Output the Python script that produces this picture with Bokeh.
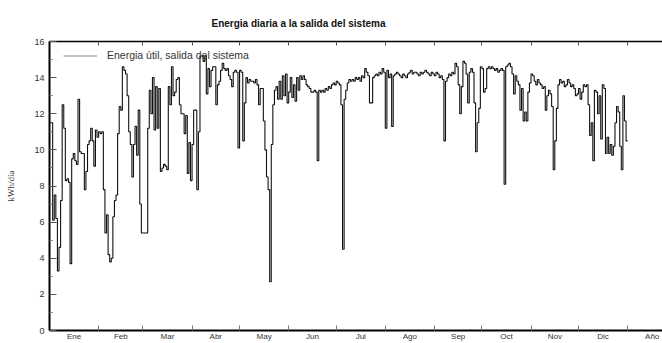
from bokeh.plotting import figure
from bokeh.models import FixedTicker, LinearAxis, Range1d, Legend, LegendItem, Title
from bokeh.embed import file_html
from bokeh.resources import INLINE

# Month labels along the bottom axis (the last slot is the yearly summary)
meses = ["Ene", "Feb", "Mar", "Abr", "May", "Jun", "Jul", "Ago", "Sep", "Oct", "Nov", "Dic", "Año"]
dias_mes = [31, 28, 31, 30, 31, 30, 31, 31, 30, 31, 30, 31, 31]

# Daily useful energy at the system output, kWh/día
ene = [11.5, 11.5, 6.1, 7.5, 6.2, 3.3, 4.6, 7.2, 12.5, 11.2, 8.3, 8.4, 8.2, 3.7, 9.5, 9.8,
       9.4, 9.2, 12.8, 9.9, 9.8, 9.8, 7.8, 8.8, 10.3, 10.5, 11.2, 10.5, 9.1, 11.1, 10.7]
feb = [11.0, 10.9, 11.0, 7.8, 5.4, 6.4, 4.2, 3.8, 4.0, 6.3, 7.2, 7.5, 10.9, 12.4, 12.2,
       14.6, 14.4, 14.2, 13.0, 11.0, 10.3, 8.5, 10.3, 11.3, 9.7, 12.2, 7.0, 5.4]
mar = [5.4, 5.4, 5.4, 11.2, 13.3, 12.0, 14.0, 11.1, 13.5, 11.2, 13.4, 8.8, 9.0, 9.2, 9.1,
       8.9, 13.5, 12.5, 14.6, 13.0, 13.2, 13.9, 14.0, 12.5, 12.0, 12.0, 10.9, 11.9, 8.7,
       10.4, 8.3]
abr = [10.3, 12.2, 12.2, 7.8, 11.0, 15.2, 15.2, 14.9, 15.2, 13.1, 14.5, 13.5, 14.4, 14.6,
       14.6, 12.5, 13.6, 13.8, 14.4, 14.8, 14.5, 14.4, 14.5, 14.1, 13.9, 13.5, 14.3, 14.4,
       14.3, 10.1]
may = [14.4, 14.3, 10.5, 12.6, 14.0, 13.7, 13.9, 13.8, 13.8, 13.7, 13.9, 13.6, 12.5, 13.4,
       13.4, 11.6, 10.0, 8.5, 7.8, 2.7, 10.3, 12.5, 13.3, 13.5, 12.8, 13.8, 12.8, 14.1,
       13.0, 14.2, 12.6]
jun = [13.2, 14.0, 12.9, 13.6, 12.7, 14.0, 13.3, 14.1, 13.9, 14.1, 13.9, 13.6, 13.5, 13.4,
       13.2, 13.2, 13.3, 13.2, 9.4, 13.3, 13.2, 13.3, 13.2, 13.4, 13.3, 13.5, 13.4, 13.6,
       13.7, 13.6]
jul = [13.8, 13.7, 13.6, 12.5, 4.5, 12.8, 13.3, 13.7, 13.9, 13.8, 13.9, 13.8, 14.0, 13.9,
       14.0, 13.8, 14.1, 14.0, 14.5, 14.3, 14.1, 12.6, 12.6, 14.0, 14.1, 14.2, 14.1, 14.3,
       14.2, 14.5, 14.3]
ago = [11.2, 14.4, 14.0, 14.2, 11.3, 14.1, 14.2, 14.3, 14.2, 14.1, 14.0, 14.2, 14.1, 14.0,
       14.2, 14.3, 14.4, 14.2, 14.3, 14.3, 14.2, 14.1, 14.3, 14.2, 14.3, 14.4, 14.3, 14.2,
       14.1, 14.3, 14.2]
sep = [14.1, 14.3, 14.2, 14.0, 14.1, 13.9, 10.5, 13.8, 14.0, 14.2, 14.1, 14.3, 14.2, 14.8,
       14.6, 13.6, 12.0, 13.5, 14.9, 14.8, 14.2, 12.6, 14.3, 14.5, 14.3, 12.6, 9.9, 11.5,
       12.3, 14.6]
oct_ = [14.5, 13.2, 13.4, 14.5, 14.6, 14.5, 14.6, 14.5, 14.4, 14.5, 14.3, 14.4, 14.5, 14.4,
        8.1, 14.6, 14.7, 14.8, 14.6, 14.2, 13.1, 14.1, 13.8, 13.6, 12.2, 13.4, 11.6, 12.1,
        11.6, 13.2, 13.7]
nov = [14.2, 14.1, 13.8, 13.6, 13.9, 13.7, 13.6, 13.4, 13.5, 12.2, 13.0, 13.3, 13.1, 12.4,
       8.9, 10.5, 12.3, 13.6, 13.9, 13.7, 13.8, 13.5, 13.6, 13.9, 13.7, 13.5, 13.6, 13.4,
       13.0, 13.1]
dic = [13.4, 12.8, 13.2, 13.6, 13.5, 13.6, 12.5, 10.8, 11.5, 9.4, 13.3, 13.2, 12.0, 13.0,
       10.6, 13.6, 13.4, 9.8, 10.7, 9.8, 10.3, 9.7, 10.2, 11.5, 12.4, 12.1, 10.2, 8.9,
       13.0, 11.6, 10.5]

energia = ene + feb + mar + abr + may + jun + jul + ago + sep + oct_ + nov + dic

# Month boundaries and mid-month label positions, in days
limites = [0]
for n in dias_mes:
    limites.append(limites[-1] + n)
centros = [(a + b) / 2 for a, b in zip(limites[:-1], limites[1:])]

dias = list(range(len(energia) + 1))
valores = energia + [energia[-1]]

FONT = "Liberation Sans"

p = figure(width=662, height=343, output_backend="svg", toolbar_location=None,
           x_range=Range1d(0, 387), y_range=Range1d(0, 16),
           x_axis_type=None, y_axis_type=None,
           min_border_left=49, min_border_right=0, min_border_top=41, min_border_bottom=8)
p.outline_line_color = None
p.xgrid.visible = False
p.ygrid.visible = False
p.background_fill_color = "white"
p.border_fill_color = "white"

p.title = Title(text="Energia diaria a la salida del sistema", align="left", offset=162,
                vertical_align="top",
                text_font=FONT, text_font_size="10px", text_font_style="bold",
                text_color="#111111", standoff=22)

# Left axis: kWh/día with inward ticks
yax = LinearAxis(ticker=FixedTicker(ticks=list(range(0, 17, 2)), minor_ticks=list(range(1, 16, 2))),
                 axis_label="kWh/día", axis_label_text_font="Liberation Serif",
                 axis_label_text_font_size="9px", axis_label_text_font_style="normal",
                 axis_label_text_color="#333333", axis_label_standoff=15,
                 major_tick_in=7, major_tick_out=0, minor_tick_in=3, minor_tick_out=0,
                 major_tick_line_color="#555555", minor_tick_line_color="#777777",
                 axis_line_width=2, axis_line_color="black",
                 major_label_text_font=FONT, major_label_text_font_size="9px",
                 major_label_text_color="#333333", major_label_standoff=5)
p.add_layout(yax, "left")

# Bottom axis: month names centred in each month, boundary ticks pointing inward
xax = LinearAxis(ticker=FixedTicker(ticks=centros, minor_ticks=limites),
                 major_label_overrides={c: m for c, m in zip(centros, meses)},
                 major_tick_in=0, major_tick_out=0, minor_tick_in=5, minor_tick_out=0,
                 minor_tick_line_color="#777777",
                 axis_line_width=2, axis_line_color="black",
                 major_label_text_font=FONT, major_label_text_font_size="8px",
                 major_label_text_color="#333333", major_label_standoff=1)
p.add_layout(xax, "below")

# Top border carrying the same month boundary ticks (minor ticks only, no labels)
tax = LinearAxis(ticker=FixedTicker(ticks=[], minor_ticks=limites),
                 major_tick_in=0, major_tick_out=0,
                 minor_tick_in=4, minor_tick_out=0, minor_tick_line_color="#555555",
                 axis_line_width=1.5, axis_line_color="black",
                 major_label_standoff=0)
p.add_layout(tax, "above")

linea = p.step(x=dias, y=valores, mode="after", line_color="#111111", line_width=1.1)

# Legend sample line (gray), kept off the data area
muestra = p.line(x=[0], y=[float("nan")], line_color="#8a8a8a", line_width=1.2)
leyenda = Legend(items=[LegendItem(label="Energia útil, salida del sistema", renderers=[muestra])],
                 location="top_left", margin=0, padding=0, spacing=0,
                 glyph_width=34, glyph_height=11, label_height=11, label_standoff=10,
                 label_text_font=FONT, label_text_font_size="10.5px", label_text_color="#333333",
                 border_line_color=None, background_fill_alpha=0)
leyenda.location = (14, 269)
p.add_layout(leyenda)

open("out.html", "w").write(file_html(p, INLINE))
